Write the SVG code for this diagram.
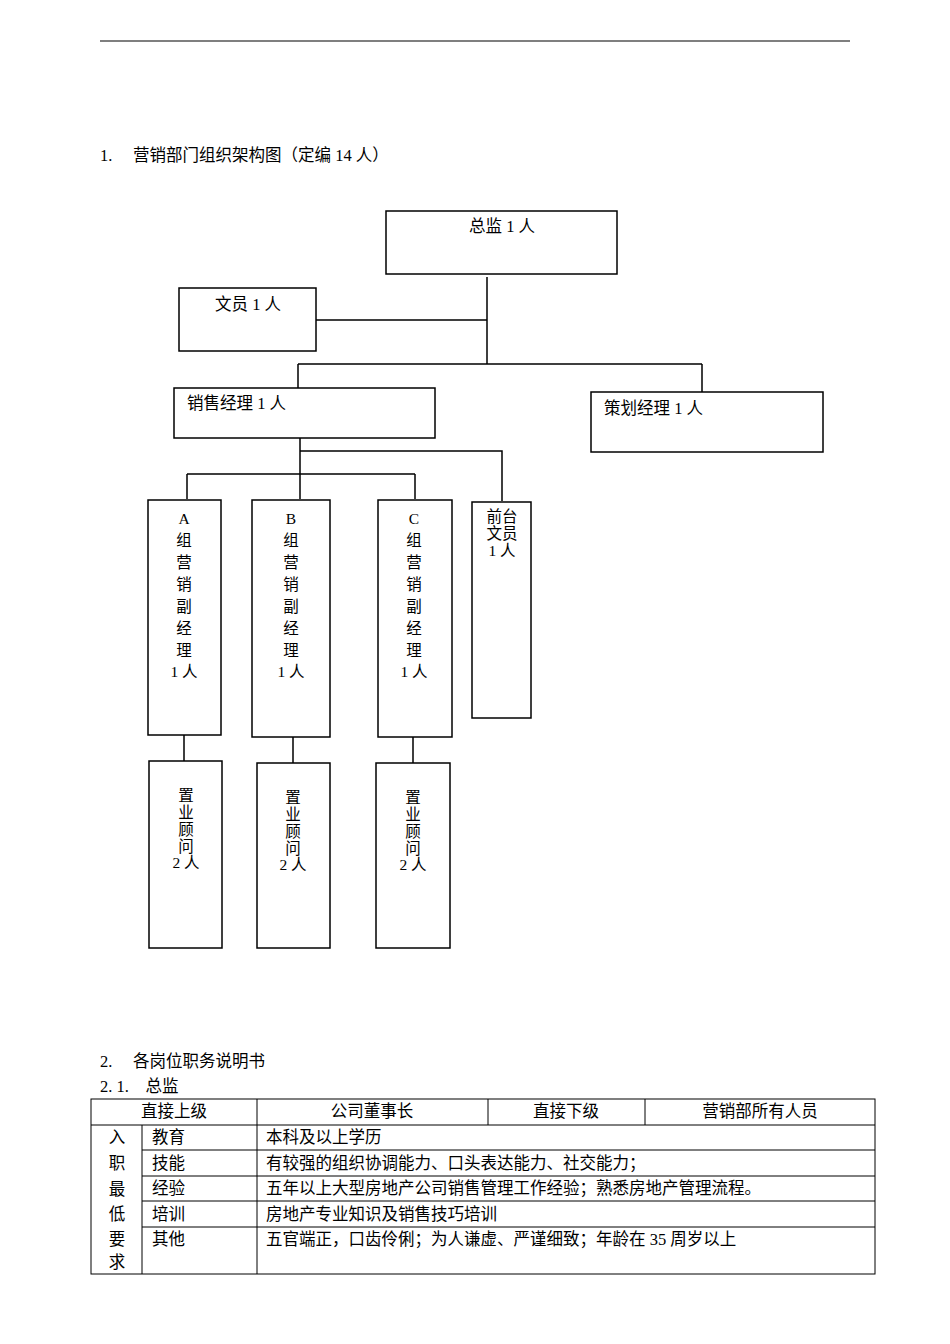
<svg xmlns="http://www.w3.org/2000/svg" width="950" height="1344" viewBox="0 0 950 1344">
<style>
text{font-family:"Liberation Serif","Noto Sans CJK SC",serif;font-size:16.5px;fill:#000}
.v{font-size:15.5px}
.b{fill:#fff;stroke:#000;stroke-width:1.5}
.c{stroke:#000;stroke-width:1.5;fill:none}
.t{stroke:#000;stroke-width:1;fill:none}
.m{text-anchor:middle}
</style>
<rect width="950" height="1344" fill="#fff"/>
<line x1="100" y1="41" x2="850" y2="41" stroke="#000" stroke-width="1.2"/>
<text x="100" y="161">1.　 营销部门组织架构图（定编 14 人）</text>
<g id="connectors" class="c">
<path d="M487 277V364M316 320H487M298 364H702M298 364V388M702 364V392M300 438V499M300 451H502V501M187 474H415M187 474V499M415 474V499M184 735V761M293 737V763M413 737V763"/>
</g>
<g id="n-director"><rect class="b" x="386" y="211" width="231" height="63"/><text class="m" x="502" y="232">总监 1 人</text></g>
<g id="n-clerk"><rect class="b" x="179" y="288" width="137" height="63"/><text class="m" x="248" y="310">文员 1 人</text></g>
<g id="n-sales"><rect class="b" x="174" y="388" width="261" height="50"/><text x="187" y="409">销售经理 1 人</text></g>
<g id="n-plan"><rect class="b" x="591" y="392" width="232" height="60"/><text x="604" y="414">策划经理 1 人</text></g>
<g id="n-a"><rect class="b" x="148" y="500" width="73" height="235"/><text class="m v"><tspan x="184" y="524">A</tspan><tspan x="184" y="546">组</tspan><tspan x="184" y="568">营</tspan><tspan x="184" y="590">销</tspan><tspan x="184" y="612">副</tspan><tspan x="184" y="634">经</tspan><tspan x="184" y="656">理</tspan><tspan x="184" y="677">1 人</tspan></text></g>
<g id="n-b"><rect class="b" x="252" y="500" width="78" height="237"/><text class="m v"><tspan x="291" y="524">B</tspan><tspan x="291" y="546">组</tspan><tspan x="291" y="568">营</tspan><tspan x="291" y="590">销</tspan><tspan x="291" y="612">副</tspan><tspan x="291" y="634">经</tspan><tspan x="291" y="656">理</tspan><tspan x="291" y="677">1 人</tspan></text></g>
<g id="n-c"><rect class="b" x="378" y="500" width="74" height="237"/><text class="m v"><tspan x="414" y="524">C</tspan><tspan x="414" y="546">组</tspan><tspan x="414" y="568">营</tspan><tspan x="414" y="590">销</tspan><tspan x="414" y="612">副</tspan><tspan x="414" y="634">经</tspan><tspan x="414" y="656">理</tspan><tspan x="414" y="677">1 人</tspan></text></g>
<g id="n-front"><rect class="b" x="472" y="502" width="59" height="216"/><text class="m v"><tspan x="502" y="522">前台</tspan><tspan x="502" y="539">文员</tspan><tspan x="502" y="556">1 人</tspan></text></g>
<g id="n-ca"><rect class="b" x="149" y="761" width="73" height="187"/><text class="m v"><tspan x="186" y="801">置</tspan><tspan x="186" y="818">业</tspan><tspan x="186" y="835">顾</tspan><tspan x="186" y="852">问</tspan><tspan x="186" y="868">2 人</tspan></text></g>
<g id="n-cb"><rect class="b" x="257" y="763" width="73" height="185"/><text class="m v"><tspan x="293" y="803">置</tspan><tspan x="293" y="820">业</tspan><tspan x="293" y="837">顾</tspan><tspan x="293" y="854">问</tspan><tspan x="293" y="870">2 人</tspan></text></g>
<g id="n-cc"><rect class="b" x="376" y="763" width="74" height="185"/><text class="m v"><tspan x="413" y="803">置</tspan><tspan x="413" y="820">业</tspan><tspan x="413" y="837">顾</tspan><tspan x="413" y="854">问</tspan><tspan x="413" y="870">2 人</tspan></text></g>
<text x="100" y="1067">2.　 各岗位职务说明书</text>
<text x="100" y="1092">2. 1.　总监</text>
<g id="table" class="t">
<rect x="91" y="1099" width="784" height="175"/>
<path d="M91 1125H875M142 1150H875M142 1176H875M142 1201H875M142 1227H875M142 1125V1274M257 1099V1274M488 1099V1125M645 1099V1125"/>
</g>
<text class="m" x="174" y="1117">直接上级</text>
<text class="m" x="372" y="1117">公司董事长</text>
<text class="m" x="566" y="1117">直接下级</text>
<text class="m" x="760" y="1117">营销部所有人员</text>
<text class="m"><tspan x="117" y="1143">入</tspan><tspan x="117" y="1169">职</tspan><tspan x="117" y="1195">最</tspan><tspan x="117" y="1220">低</tspan><tspan x="117" y="1245">要</tspan><tspan x="117" y="1268">求</tspan></text>
<text x="152" y="1143">教育</text><text x="266" y="1143">本科及以上学历</text>
<text x="152" y="1169">技能</text><text x="266" y="1169">有较强的组织协调能力、口头表达能力、社交能力；</text>
<text x="152" y="1194">经验</text><text x="266" y="1194">五年以上大型房地产公司销售管理工作经验；熟悉房地产管理流程。</text>
<text x="152" y="1220">培训</text><text x="266" y="1220">房地产专业知识及销售技巧培训</text>
<text x="152" y="1245">其他</text><text x="266" y="1245">五官端正，口齿伶俐；为人谦虚、严谨细致；年龄在 35 周岁以上</text>
</svg>
